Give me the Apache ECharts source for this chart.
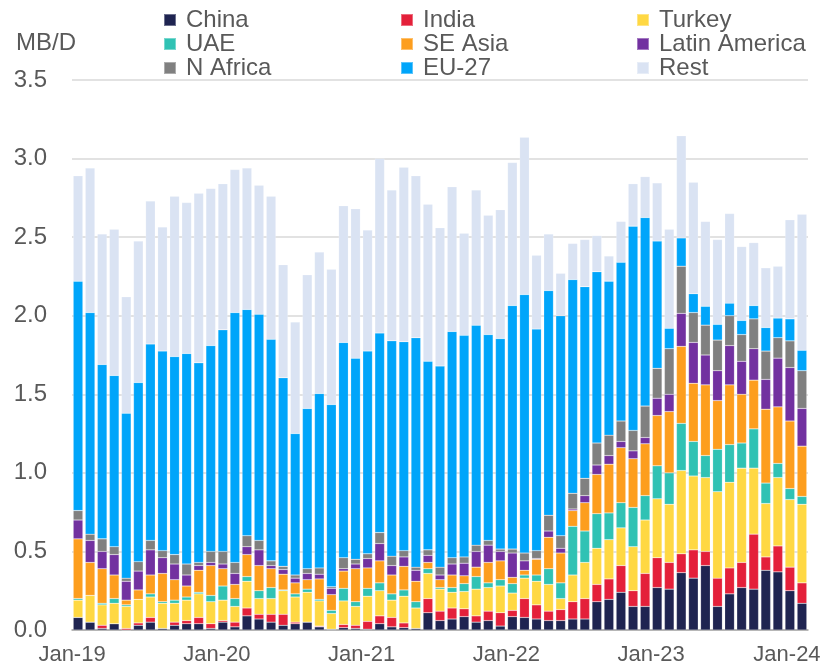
<!DOCTYPE html>
<html lang="en">
<head>
    <meta charset="UTF-8">
    <title>exports-by-destination</title>
    <script src="https://cdn.jsdelivr.net/npm/echarts@6.0.0/dist/echarts.min.js"></script>
</head>
<body style="margin:0">
<div id="main" style="width: 839px;height:671px;"></div>
<script>
    // months, Jan-19 .. Jan-24
    var months = ['Jan-19','Feb-19','Mar-19','Apr-19','May-19','Jun-19','Jul-19','Aug-19','Sep-19','Oct-19','Nov-19','Dec-19',
        'Jan-20','Feb-20','Mar-20','Apr-20','May-20','Jun-20','Jul-20','Aug-20','Sep-20','Oct-20','Nov-20','Dec-20',
        'Jan-21','Feb-21','Mar-21','Apr-21','May-21','Jun-21','Jul-21','Aug-21','Sep-21','Oct-21','Nov-21','Dec-21',
        'Jan-22','Feb-22','Mar-22','Apr-22','May-22','Jun-22','Jul-22','Aug-22','Sep-22','Oct-22','Nov-22','Dec-22',
        'Jan-23','Feb-23','Mar-23','Apr-23','May-23','Jun-23','Jul-23','Aug-23','Sep-23','Oct-23','Nov-23','Dec-23',
        'Jan-24'];

    var china = [0.08,0.05,0.01,0.04,0.00,0.03,0.05,0.01,0.03,0.04,0.04,0.01,
        0.05,0.02,0.09,0.07,0.05,0.03,0.04,0.05,0.02,0.005,0.015,0.01,
        0.005,0.04,0.02,0.015,0.01,0.11,0.06,0.07,0.085,0.05,0.06,0.025,
        0.085,0.08,0.07,0.06,0.06,0.07,0.07,0.18,0.195,0.24,0.15,0.15,
        0.27,0.26,0.365,0.33,0.41,0.15,0.23,0.27,0.26,0.38,0.37,0.25,
        0.17];
    var india = [0.00,0.00,0.02,0.00,0.01,0.015,0.03,0.00,0.02,0.02,0.04,0.03,
        0.01,0.03,0.05,0.03,0.05,0.07,0.01,0.00,0.005,0.00,0.02,0.02,
        0.05,0.05,0.06,0.03,0.00,0.09,0.06,0.07,0.05,0.04,0.06,0.085,
        0.04,0.12,0.09,0.06,0.07,0.11,0.13,0.11,0.13,0.17,0.10,0.21,
        0.19,0.17,0.12,0.18,0.09,0.18,0.165,0.16,0.35,0.085,0.165,0.15,
        0.13];
    var turkey = [0.11,0.17,0.13,0.13,0.14,0.15,0.13,0.16,0.12,0.13,0.15,0.14,
        0.13,0.10,0.17,0.10,0.10,0.15,0.16,0.19,0.16,0.10,0.15,0.12,
        0.16,0.16,0.11,0.17,0.13,0.16,0.14,0.10,0.11,0.17,0.15,0.17,
        0.11,0.13,0.15,0.17,0.07,0.17,0.23,0.23,0.25,0.24,0.28,0.34,
        0.375,0.37,0.53,0.47,0.47,0.55,0.545,0.60,0.42,0.34,0.435,0.43,
        0.50];
    var uae = [0.01,0.00,0.01,0.03,0.01,0.00,0.02,0.01,0.02,0.02,0.01,0.04,
        0.09,0.05,0.03,0.05,0.07,0.005,0.02,0.02,0.01,0.02,0.08,0.03,
        0.05,0.05,0.04,0.04,0.04,0.03,0.01,0.03,0.05,0.08,0.03,0.04,
        0.06,0.02,0.04,0.10,0.10,0.31,0.20,0.22,0.17,0.16,0.25,0.155,
        0.21,0.20,0.30,0.22,0.14,0.27,0.24,0.16,0.25,0.13,0.09,0.07,
        0.05];
    var seAsia = [0.38,0.21,0.22,0.15,0.03,0.06,0.12,0.18,0.13,0.07,0.14,0.19,
        0.11,0.09,0.14,0.16,0.12,0.10,0.07,0.06,0.13,0.10,0.11,0.21,
        0.13,0.14,0.12,0.15,0.13,0.04,0.05,0.08,0.05,0.06,0.13,0.12,
        0.04,0.03,0.10,0.20,0.19,0.10,0.18,0.25,0.31,0.35,0.31,0.33,
        0.32,0.39,0.49,0.37,0.45,0.31,0.38,0.31,0.31,0.47,0.36,0.43,
        0.32];
    var latAm = [0.12,0.14,0.11,0.13,0.12,0.12,0.16,0.10,0.10,0.07,0.03,0.02,
        0.03,0.07,0.05,0.10,0.02,0.03,0.03,0.04,0.03,0.04,0.015,0.03,
        0.06,0.11,0.06,0.06,0.07,0.045,0.03,0.07,0.08,0.10,0.11,0.06,
        0.155,0.06,0.005,0.04,0.03,0.01,0.045,0.06,0.055,0.04,0.05,0.04,
        0.11,0.11,0.21,0.26,0.19,0.19,0.25,0.21,0.20,0.19,0.31,0.34,
        0.24];
    var nAfrica = [0.06,0.04,0.08,0.05,0.02,0.06,0.06,0.045,0.06,0.07,0.02,0.07,
        0.08,0.07,0.07,0.06,0.03,0.02,0.02,0.03,0.04,0.01,0.07,0.03,
        0.03,0.07,0.06,0.04,0.02,0.035,0.05,0.04,0.04,0.04,0.03,0.015,
        0.025,0.05,0.05,0.10,0.08,0.10,0.11,0.14,0.13,0.13,0.13,0.20,
        0.19,0.29,0.30,0.19,0.19,0.195,0.19,0.17,0.19,0.18,0.13,0.17,
        0.24];
    var eu27 = [1.46,1.41,1.11,1.09,1.05,1.14,1.25,1.27,1.26,1.34,1.27,1.31,
        1.41,1.59,1.44,1.44,1.41,1.20,0.90,1.02,1.11,1.16,1.37,1.28,
        1.29,1.27,1.37,1.33,1.46,1.20,1.28,1.44,1.41,1.40,1.31,1.34,
        1.55,1.645,1.41,1.43,1.40,1.36,1.22,1.09,0.98,1.01,1.30,1.20,
        0.81,0.13,0.18,0.12,0.12,0.10,0.08,0.09,0.085,0.15,0.125,0.14,
        0.13];
    var rest = [0.67,0.92,0.83,0.93,0.74,0.90,0.91,0.79,1.02,0.96,1.08,1.00,
        0.93,0.91,0.90,0.82,0.91,0.72,0.71,0.85,0.90,0.86,0.87,0.95,
        0.77,1.11,0.96,1.11,1.03,1.00,0.88,0.92,0.65,0.86,0.76,0.82,
        0.91,1.00,0.47,0.36,0.27,0.23,0.30,0.23,0.16,0.26,0.27,0.26,
        0.37,0.63,0.65,0.71,0.54,0.54,0.57,0.47,0.40,0.38,0.33,0.63,
        0.865];

    var names = ['China', 'India', 'Turkey', 'UAE', 'SE Asia', 'Latin America', 'N Africa', 'EU-27', 'Rest'];
    var colors = ['#1f2451', '#e4203a', '#ffd843', '#30c2b4', '#fd9e1e', '#7231a0', '#808080', '#00a5fa', '#dae3f3'];
    var values = [china, india, turkey, uae, seAsia, latAm, nAfrica, eu27, rest];

    var font = 'Liberation Sans, Arial, sans-serif';
    var grey = '#595959';

    var series = [];
    for (var i = 0; i < names.length; i++) {
        series.push({
            name: names[i],
            type: 'bar',
            stack: 'total',
            barCategoryGap: '20%',
            itemStyle: {color: colors[i], borderColor: 'rgba(255,255,255,0.35)', borderWidth: 0.5},
            data: values[i]
        });
    }

    function legend(left, data) {
        return {
            orient: 'vertical',
            left: left,
            top: 8,
            padding: 0,
            itemGap: 0,
            itemWidth: 12,
            itemHeight: 12,
            icon: 'rect',
            data: data,
            textStyle: {fontSize: 24, lineHeight: 24, color: grey, fontFamily: font, padding: [0, 0, 0, 5]}
        };
    }

    var chart = echarts.init(document.getElementById('main'));
    var option = {
        animation: false,
        color: colors,
        legend: [
            legend(163, ['China', 'UAE', 'N Africa']),
            legend(400, ['India', 'SE Asia', 'EU-27']),
            legend(636, ['Turkey', 'Latin America', 'Rest'])
        ],
        graphic: [{
            type: 'text',
            left: 16,
            top: 31,
            style: {text: 'MB/D', fontSize: 24, fill: grey, fontFamily: font}
        }],
        grid: {left: 72, right: 31, top: 80, bottom: 41, containLabel: false},
        xAxis: {
            type: 'category',
            data: months,
            axisLine: {lineStyle: {color: '#a6a6a6', width: 1.5}},
            axisTick: {
                interval: function (idx) { return idx % 12 === 0; },
                length: 6,
                lineStyle: {color: '#a6a6a6', width: 1.5}
            },
            axisLabel: {
                interval: function (idx) { return idx % 12 === 0; },
                color: grey,
                fontSize: 22,
                fontFamily: font,
                margin: 14,
                // labels sit on the tick (band start), the last one pulled in from the edge
                formatter: function (v, idx) { return idx === months.length - 1 ? '{b|' + v + '}' : '{a|' + v + '}'; },
                rich: {
                    a: {fontSize: 22, color: grey, fontFamily: font, padding: [0, 12, 0, 0]},
                    b: {fontSize: 22, color: grey, fontFamily: font, padding: [0, 30, 0, 0]}
                }
            }
        },
        yAxis: {
            type: 'value',
            min: 0,
            max: 3.5,
            interval: 0.5,
            axisLine: {show: false},
            axisTick: {show: false},
            axisLabel: {
                color: grey,
                fontSize: 24,
                fontFamily: font,
                margin: 25,
                formatter: function (v) { return v.toFixed(1); }
            },
            splitLine: {lineStyle: {color: '#d9d9d9', width: 1.5}}
        },
        series: series
    };
    chart.setOption(option);
</script>
</body>
</html>
